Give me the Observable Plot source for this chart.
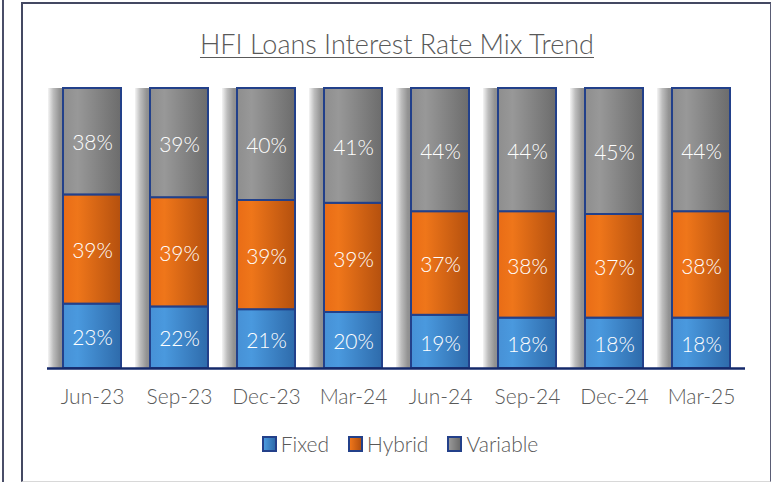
<!DOCTYPE html>
<html>
<head>
<meta charset="utf-8">
<script src="https://cdn.jsdelivr.net/npm/d3@7"></script>
<script src="https://cdn.jsdelivr.net/npm/@observablehq/plot@0.6"></script>
<style>
  html, body { margin: 0; padding: 0; background: #fff; }
  #wrap { position: relative; width: 774px; height: 482px; overflow: hidden; font-family: Lato, "Open Sans", sans-serif; }
  #outer-line { position: absolute; left: 2px; top: 0; width: 2px; height: 482px; background: #4a4e68; }
  #frame { position: absolute; left: 21px; top: 2px; width: 747px; height: 477px;
           border-left: 2px solid #444862; border-top: 2px solid #444862; border-right: 1.5px solid #5a5d75; border-bottom: 1.5px solid #d8d8d8; }
  #title { position: absolute; left: 0; width: 794px; top: 27px; text-align: center; font-size: 27px; font-weight: 300;
           color: #595959; text-decoration: underline; text-underline-offset: 3px; text-decoration-thickness: 1px; }
  #chart { position: absolute; left: 0; top: 0; }
  #legend { position: absolute; top: 431px; left: 0; width: 800px; display: flex; justify-content: center; gap: 19px;
            font-size: 21px; color: #595959; font-weight: 300; }
  .item { display: flex; align-items: center; gap: 4px; }
  .sw { width: 11px; height: 12px; border: 2px solid #23408a; }
</style>
</head>
<body>
<div id="wrap">
  <div id="outer-line"></div>
  <div id="frame"></div>
  <div id="chart"></div>
  <div id="title">HFI Loans Interest Rate Mix Trend</div>
  <div id="legend"></div>
</div>
<script>
const periods = ["Jun-23", "Sep-23", "Dec-23", "Mar-24", "Jun-24", "Sep-24", "Dec-24", "Mar-25"];
const seriesNames = ["Fixed", "Hybrid", "Variable"];
const fixed    = [23, 22, 21, 20, 19, 18, 18, 18];
const hybrid   = [39, 39, 39, 39, 37, 38, 37, 38];
const variable = [38, 39, 40, 41, 44, 44, 45, 44];

const seriesValues = [fixed, hybrid, variable];
const gradIds = {Fixed: "gFixed", Hybrid: "gHybrid", Variable: "gVariable"};

const rows = [];
seriesNames.forEach((s, si) => {
  periods.forEach((p, i) => rows.push({period: p, type: s, value: seriesValues[si][i]}));
});
const totals = periods.map((p, i) => ({period: p, total: fixed[i] + hybrid[i] + variable[i]}));

const defs = () => {
  const svg = d3.create("svg:defs");
  const mk = (id, stops) => {
    const g = svg.append("linearGradient").attr("id", id).attr("x1", "0").attr("x2", "1").attr("y1", "0").attr("y2", "0");
    stops.forEach(([o, c]) => g.append("stop").attr("offset", o).attr("stop-color", c));
  };
  mk("gFixed", [["0%", "#4791d6"], ["25%", "#4a99de"], ["100%", "#2e6bab"]]);
  mk("gHybrid", [["0%", "#e96c16"], ["25%", "#ef761a"], ["100%", "#b4500e"]]);
  mk("gVariable", [["0%", "#8e8e8e"], ["25%", "#989898"], ["100%", "#6c6c6c"]]);
  mk("gShadow", [["0%", "#f4f4f4"], ["9%", "#bdbdbd"], ["20%", "#939393"], ["26%", "#8c8c8c"], ["100%", "#8c8c8c"]]);
  return svg.node();
};

const chart = Plot.plot({
  width: 774,
  height: 420,
  marginTop: 88,
  marginBottom: 52,
  marginLeft: 33,
  marginRight: 14,
  style: {fontFamily: "Lato, 'Open Sans', sans-serif", background: "transparent", overflow: "visible"},
  x: {domain: periods, padding: 0.336, label: null, tickSize: 0, tickPadding: 21},
  y: {domain: [0, 100], axis: null},
  marks: [
    defs,
    Plot.barY(totals, {x: "period", y: "total", fill: "url(#gShadow)", dx: -15}),
    Plot.barY(rows, Plot.stackY({x: "period", y: "value", z: "type",
      fill: d => `url(#${gradIds[d.type]})`, stroke: "#22408a", strokeWidth: 2})),
    Plot.text(rows, Plot.stackY({x: "period", y: "value", z: "type",
      text: d => d.value + "%", fill: "white", fontSize: 21, fontWeight: 300, dy: 2})),
    Plot.ruleY([0], {stroke: "#14296a", strokeWidth: 2.5, insetLeft: 14, insetRight: 15}),
    Plot.axisX({tickSize: 0, tickPadding: 21, fontSize: 21, fill: "#595959", fontWeight: 300, label: null})
  ]
});
document.getElementById("chart").appendChild(chart);

const legend = document.getElementById("legend");
const swatchBg = {
  Fixed: "linear-gradient(90deg, #4a99de, #2e6bab)",
  Hybrid: "linear-gradient(90deg, #ef761a, #b4500e)",
  Variable: "linear-gradient(90deg, #989898, #6c6c6c)"
};
seriesNames.forEach(s => {
  const it = document.createElement("div");
  it.className = "item";
  const sw = document.createElement("div");
  sw.className = "sw";
  sw.style.background = swatchBg[s];
  const tx = document.createElement("span");
  tx.textContent = s;
  it.appendChild(sw); it.appendChild(tx);
  legend.appendChild(it);
});
</script>
</body>
</html>
